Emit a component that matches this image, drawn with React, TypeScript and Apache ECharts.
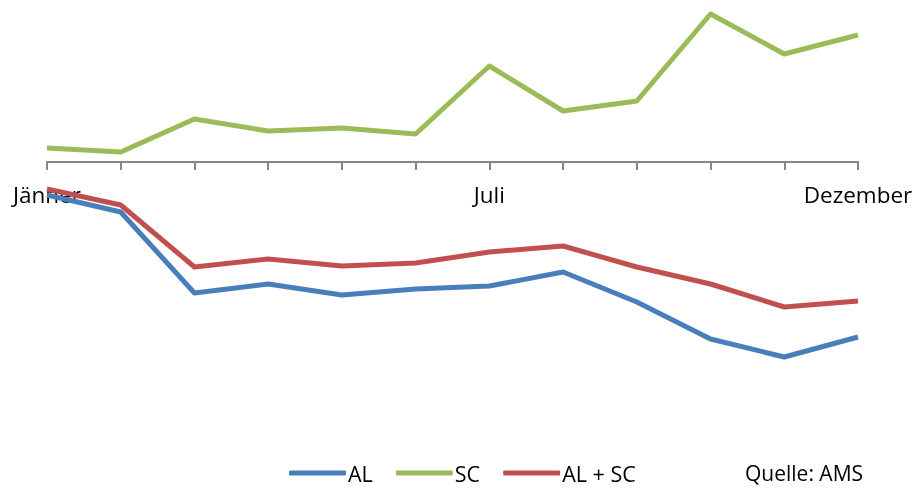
import React, { useEffect, useRef } from "react";
import * as echarts from "echarts";

const months = ["Jänner", "Februar", "März", "April", "Mai", "Juni", "Juli", "August", "September", "Oktober", "November", "Dezember"];
const shownLabels = ["Jänner", "Juli", "Dezember"];
const alValues = [-33, -50, -131, -122, -133, -127, -124, -110, -140, -177, -195, -175];
const scValues = [14, 10, 43, 31, 34, 28, 96, 51, 61, 148, 108, 127];
const alScValues = [-27, -43, -105, -97, -104, -101, -90, -84, -105, -122, -145, -139];
const seriesNames = ["AL", "SC", "AL + SC"];
const seriesColors = ["#4A7EBB", "#9BBB59", "#C0504D"];
const sourceText = "Quelle: AMS";

const Y_MIN = -250;
const Y_MAX = 150;
const GRID_TOP = 12;
const GRID_BOTTOM = 76;

export default function App() {
  const ref = useRef<HTMLDivElement>(null);
  useEffect(() => {
    if (!ref.current) return;
    const chart = echarts.init(ref.current, null, { renderer: "svg" });
    const font = "'Open Sans', sans-serif";
    const values = [alValues, scValues, alScValues];
    const plotH = 488 - GRID_TOP - GRID_BOTTOM;
    const zeroOffset = -(plotH * (0 - Y_MIN)) / (Y_MAX - Y_MIN);
    chart.setOption({
      animation: false,
      grid: { left: 47, right: 58, top: GRID_TOP, bottom: GRID_BOTTOM, containLabel: false },
      xAxis: {
        type: "category",
        boundaryGap: false,
        data: months,
        offset: zeroOffset,
        axisLine: { onZero: false, lineStyle: { color: "#868686", width: 2 } },
        axisTick: { show: true, interval: 0, length: 8, lineStyle: { color: "#868686", width: 2 } },
        axisLabel: {
          interval: (i: number, v: string) => shownLabels.includes(v),
          color: "#000",
          fontFamily: font,
          fontSize: 22.5,
          margin: 21,
        },
        splitLine: { show: false },
      },
      yAxis: {
        type: "value",
        show: false,
        min: Y_MIN,
        max: Y_MAX,
        splitLine: { show: false },
      },
      legend: {
        left: 289,
        top: 462,
        padding: 0,
        itemGap: 23,
        itemWidth: 57,
        itemHeight: 5,
        icon: "roundRect",
        textStyle: { color: "#000", fontFamily: font, fontSize: 21.5, lineHeight: 21, padding: [0, 0, 0, -3] },
        data: seriesNames,
      },
      graphic: [
        {
          type: "text",
          left: 745,
          top: 462,
          style: { text: sourceText, fill: "#000", font: `21px ${font}`, lineHeight: 21 },
        },
      ],
      series: seriesNames.map((name, i) => ({
        name,
        type: "line",
        data: values[i],
        symbol: "none",
        showSymbol: false,
        color: seriesColors[i],
        lineStyle: { color: seriesColors[i], width: 5, join: "round" },
      })),
    });
    return () => chart.dispose();
  }, []);
  return <div ref={ref} style={{ position: "fixed", left: 0, top: 0, width: 916, height: 488 }} />;
}
